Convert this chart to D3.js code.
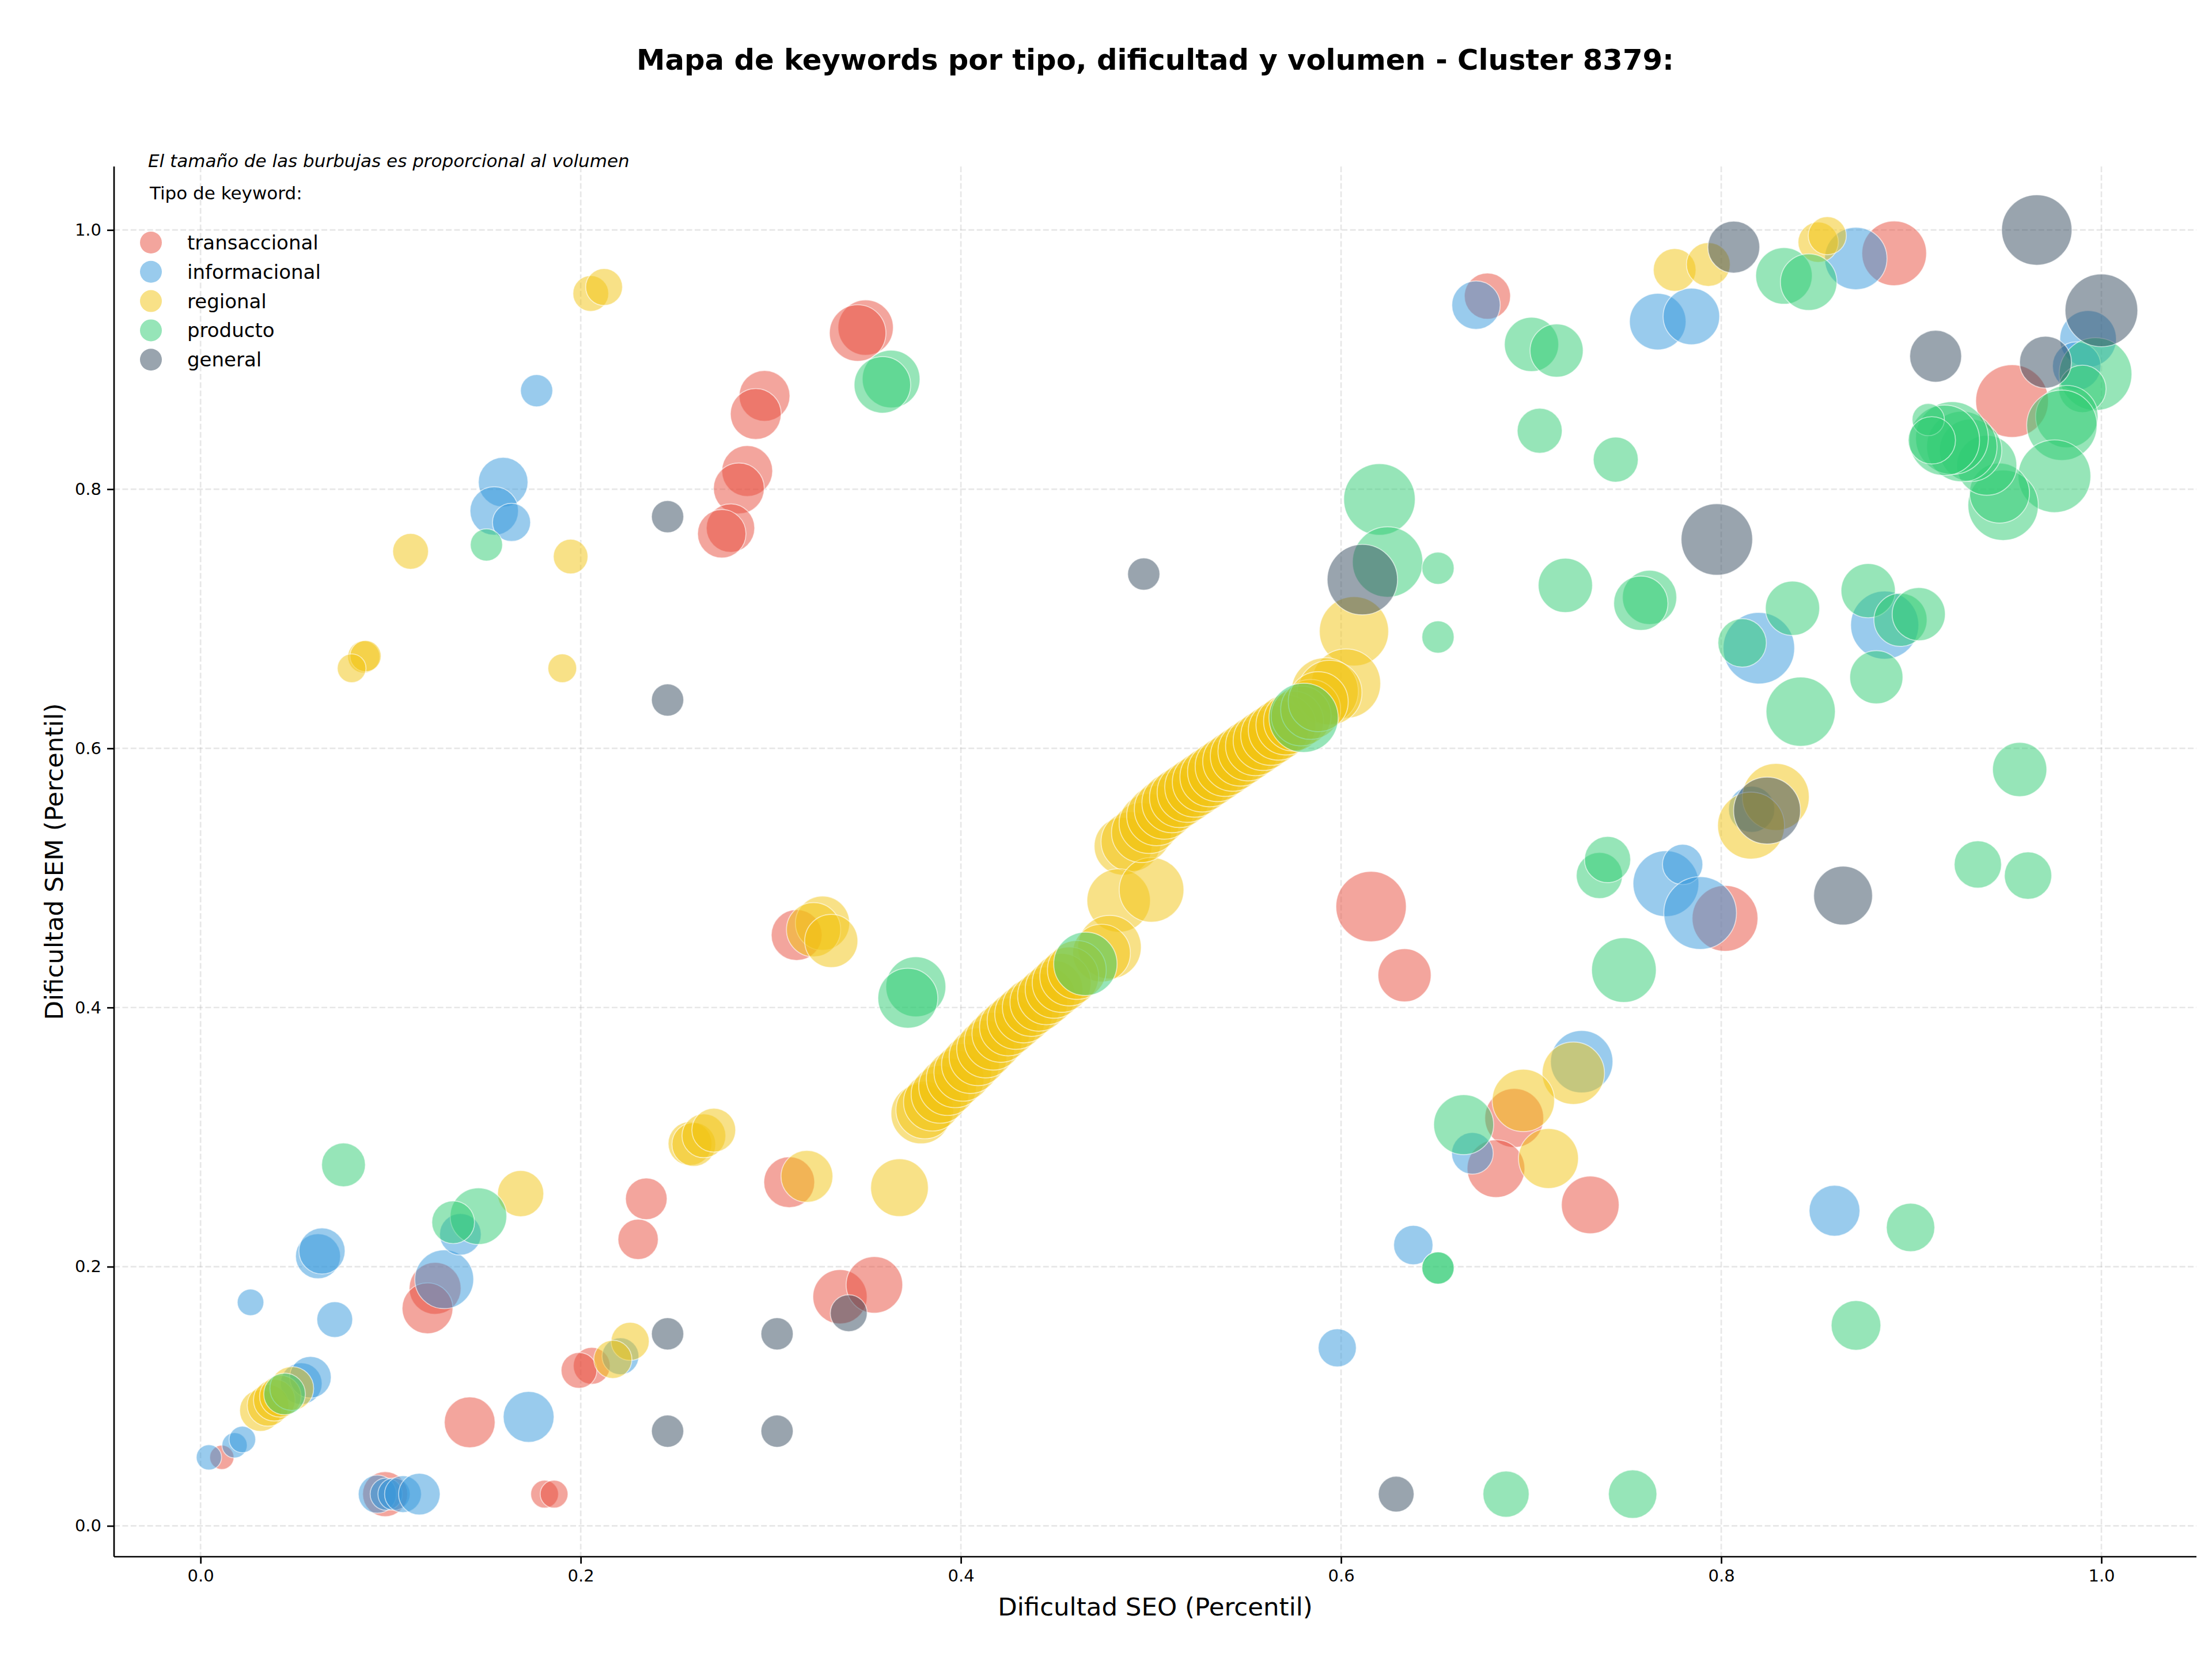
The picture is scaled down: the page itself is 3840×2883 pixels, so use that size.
<!DOCTYPE html>
<html>
<head>
<meta charset="utf-8">
<script src="https://cdn.jsdelivr.net/npm/d3@7"></script>
<style>
  html, body { margin: 0; padding: 0; background: #ffffff; }
  svg { display: block; font-family: "DejaVu Sans", sans-serif; }
</style>
</head>
<body>
<div id="chart"></div>
<script>
// ---------------- DATA ----------------
const chartTitle = "Mapa de keywords por tipo, dificultad y volumen - Cluster 8379:";
const subtitle = "El tamaño de las burbujas es proporcional al volumen";
const legendTitle = "Tipo de keyword:";
const xLabel = "Dificultad SEO (Percentil)";
const yLabel = "Dificultad SEM (Percentil)";
const categories = ["transaccional", "informacional", "regional", "producto", "general"];
const xTicks = [0.0, 0.2, 0.4, 0.6, 0.8, 1.0];
const yTicks = [0.0, 0.2, 0.4, 0.6, 0.8, 1.0];

// transaccional
const transaccionalSEO = [0.2967,0.2921,0.2876,0.2832,0.2788,0.2742,0.3499,0.3457,0.677,0.891,0.953,0.3136,0.3097,0.2345,0.2302,0.2058,0.1991,0.181,0.186,0.1416,0.0971,0.0112,0.1234,0.1194,0.3364,0.3545,0.6158,0.6334,0.6911,0.6815,0.7311,0.802];
const transaccionalSEM = [0.872,0.858,0.814,0.8006,0.770,0.7656,0.9247,0.9205,0.949,0.982,0.868,0.4559,0.2652,0.2524,0.2211,0.1235,0.120,0.0245,0.0245,0.0799,0.0245,0.0529,0.1833,0.1679,0.1768,0.186,0.4779,0.4249,0.3148,0.2757,0.2477,0.4688];
const transaccionalVol = [1940,1940,1940,1940,1760,1760,2300,2400,1600,3140,3970,1940,1940,1300,1220,1020,960,580,580,1940,1520,440,2020,1940,2210,2400,3720,2120,2600,2500,2500,3250];

// informacional
const informacionalSEO = [0.1768,0.1592,0.1545,0.1636,0.671,0.7666,0.7843,0.8708,0.993,0.987,0.8198,0.886,0.816,0.7709,0.7797,0.7889,0.7266,0.6691,0.638,0.598,0.8596,0.1726,0.093,0.0977,0.1018,0.1065,0.1151,0.0044,0.0179,0.022,0.053,0.0578,0.0706,0.0263,0.0618,0.0639,0.1282,0.1367,0.2209];
const informacionalSEM = [0.876,0.8054,0.7832,0.7744,0.942,0.9293,0.9333,0.978,0.916,0.895,0.6773,0.6951,0.553,0.4956,0.5104,0.4729,0.3582,0.2875,0.2167,0.1374,0.2432,0.0841,0.0245,0.0245,0.0245,0.0245,0.0245,0.0529,0.0622,0.0667,0.1098,0.1147,0.1592,0.1725,0.2081,0.2121,0.1903,0.225,0.1309];
const informacionalVol = [780,1850,1760,1090,1760,2400,2400,2920,2400,1760,3840,3480,1600,3250,1220,3970,2920,1300,1160,1090,1940,1940,1090,780,780,1020,1300,480,480,530,1300,1300,960,530,1520,1600,2600,1300,1020];

// regional
const regionalSEO = [0.2053,0.2123,0.1105,0.1947,0.0859,0.0868,0.0795,0.1903,0.7755,0.7932,0.851,0.8558,0.8287,0.8157,0.7222,0.6959,0.7091,0.3677,0.319,0.3272,0.3225,0.3318,0.2575,0.2595,0.2648,0.27,0.1684,0.226,0.2169,0.0315,0.0355,0.0388,0.042,0.048,
  0.6068,0.6026,0.5915,0.594,0.4853,0.4895,0.483,0.5003,0.4782,0.474,0.379,
  0.381,0.385,0.389,0.393,0.397,0.401,0.405,0.409,0.413,0.417,0.421,0.425,0.429,0.433,0.437,0.441,0.445,0.449,0.453,0.457,0.461,
  0.495,0.499,0.503,0.507,0.511,0.515,0.519,0.523,0.527,0.531,0.535,0.539,0.543,0.547,0.551,0.555,0.559,0.563,0.567,0.571,0.575,0.579,0.584,0.588];
const regionalSEM = [0.951,0.956,0.752,0.748,0.6706,0.6712,0.6618,0.6618,0.9692,0.9734,0.9906,0.9956,0.5625,0.5404,0.3493,0.3283,0.2835,0.261,0.2697,0.4651,0.4601,0.4514,0.295,0.2944,0.301,0.3054,0.2564,0.1424,0.1285,0.089,0.093,0.097,0.100,0.106,
  0.6903,0.650,0.6441,0.643,0.5245,0.528,0.4826,0.4908,0.4466,0.442,0.318,
  0.321,0.327,0.333,0.339,0.345,0.350,0.356,0.362,0.368,0.374,0.380,0.385,0.390,0.395,0.400,0.404,0.409,0.414,0.419,0.424,0.429,
  0.535,0.542,0.548,0.553,0.558,0.562,0.566,0.570,0.574,0.578,0.582,0.586,0.590,0.594,0.598,0.602,0.606,0.610,0.614,0.618,0.621,0.625,0.630,0.636];
const regionalVol = [960,1020,960,900,780,730,620,620,1370,1440,1220,1090,3360,3360,2920,2920,2700,2500,2020,2210,2210,2120,1440,1440,1440,1440,1600,1090,1090,1300,1300,1300,1300,1440,
  3600,3600,3360,3140,2500,2700,3020,3140,3020,2500,2700,
  2500,2500,2500,2500,2500,2500,2500,2500,2500,2500,2500,2500,2500,2500,2500,2500,2500,2500,2600,2600,2600,
  2700,2700,2700,2700,2700,2700,2700,2700,2700,2700,2700,2700,2700,2700,2700,2700,2700,2700,2700,2700,2700,2700,2700,2700];

// producto
const productoSEO = [0.1504,0.3633,0.3587,0.6202,0.6245,0.651,0.651,0.5803,0.4655,0.3763,0.3721,0.7002,0.7134,0.7045,0.7445,0.718,0.7623,0.7577,0.833,0.846,0.8375,0.811,0.8773,0.8943,0.9039,0.8816,0.8418,0.957,
  0.9969,0.990,0.9818,0.9792,0.9753,0.9483,0.9464,0.9397,0.9312,0.9266,0.9214,0.9174,0.9089,0.9108,
  0.7359,0.7402,0.935,0.9614,0.7488,0.6645,0.651,0.651,0.8996,0.8709,0.6868,0.7534,0.0752,0.1462,0.1329,0.0442];
const productoSEM = [0.757,0.885,0.8805,0.7921,0.7438,0.739,0.6859,0.6236,0.4337,0.416,0.4072,0.9117,0.907,0.8451,0.8228,0.7258,0.7165,0.712,0.9646,0.9598,0.7081,0.6814,0.7217,0.6992,0.7036,0.6549,0.6283,0.5837,
  0.8888,0.8774,0.856,0.8493,0.810,0.7876,0.797,0.8184,0.830,0.8329,0.8395,0.8377,0.8537,0.8377,
  0.5019,0.5142,0.5104,0.5018,0.4289,0.3096,0.199,0.199,0.2303,0.1547,0.0245,0.0245,0.2786,0.239,0.2343,0.1018];
const productoVol = [780,2500,2400,3840,3720,780,780,3600,3020,2700,2700,2210,2120,1520,1520,2210,2210,2210,2400,2400,2210,1760,2210,2120,2120,2120,3600,2210,
  3970,1680,2920,3720,3970,3720,2700,2700,2920,3720,3970,3720,780,1680,
  1600,1600,1680,1680,3140,2700,780,780,1760,1850,1600,1760,1440,2400,1370,1300];

// general
const generalSEO = [0.2457,0.2457,0.4962,0.6112,0.8066,0.7977,0.966,1.0,0.9128,0.9706,0.8241,0.8641,0.629,0.341,0.2457,0.3033,0.2457,0.3033];
const generalSEM = [0.7788,0.6373,0.7345,0.7302,0.9868,0.7612,1.0,0.938,0.9026,0.898,0.552,0.4864,0.0245,0.1641,0.1482,0.1482,0.0731,0.0731];
const generalVol = [780,780,780,3720,2020,3840,3720,3970,2020,2020,3360,2600,960,1020,780,780,780,780];

const colors = ["#e74c3c", "#3498db", "#f1c40f", "#2ecc71", "#34495e"];

// --------------- BUILD ----------------
const series = [
  {name: categories[0], x: transaccionalSEO, y: transaccionalSEM, v: transaccionalVol},
  {name: categories[1], x: informacionalSEO, y: informacionalSEM, v: informacionalVol},
  {name: categories[2], x: regionalSEO, y: regionalSEM, v: regionalVol},
  {name: categories[3], x: productoSEO, y: productoSEM, v: productoVol},
  {name: categories[4], x: generalSEO, y: generalSEM, v: generalVol}
];

const W = 3840, H = 2883;
const plot = {left: 198, right: 3813, top: 289, bottom: 2702};

const svg = d3.select("#chart").append("svg")
  .attr("width", W).attr("height", H).attr("viewBox", `0 0 ${W} ${H}`);
svg.append("rect").attr("width", W).attr("height", H).attr("fill", "#ffffff");

const x = d3.scaleLinear().domain([-0.0455, 1.05]).range([plot.left, plot.right]);
const y = d3.scaleLinear().domain([-0.0238, 1.049]).range([plot.bottom, plot.top]);
const r = d3.scaleSqrt().domain([0, 4000]).range([0, 63.3]);

// grid
const grid = svg.append("g");
grid.selectAll("line.gx").data(xTicks).join("line")
  .attr("x1", d => x(d)).attr("x2", d => x(d))
  .attr("y1", plot.top).attr("y2", plot.bottom)
  .attr("stroke", "#b0b0b0").attr("stroke-opacity", 0.3)
  .attr("stroke-width", 2.7).attr("stroke-dasharray", "10,4.4");
grid.selectAll("line.gy").data(yTicks).join("line")
  .attr("y1", d => y(d)).attr("y2", d => y(d))
  .attr("x1", plot.left).attr("x2", plot.right)
  .attr("stroke", "#b0b0b0").attr("stroke-opacity", 0.3)
  .attr("stroke-width", 2.7).attr("stroke-dasharray", "10,4.4");

// bubbles
const gPts = svg.append("g");
series.forEach((s, i) => {
  const pts = s.x.map((xv, k) => ({x: xv, y: s.y[k], v: s.v[k]}));
  gPts.append("g").selectAll("circle").data(pts).join("circle")
    .attr("cx", d => x(d.x)).attr("cy", d => y(d.y)).attr("r", d => r(d.v))
    .attr("fill", colors[i]).attr("fill-opacity", 0.5)
    .attr("stroke", "#ffffff").attr("stroke-opacity", 0.6).attr("stroke-width", 1.7);
});

// axes
const xAxis = d3.axisBottom(x).tickValues(xTicks).tickFormat(d3.format(".1f"))
  .tickSize(12).tickPadding(10);
const yAxis = d3.axisLeft(y).tickValues(yTicks).tickFormat(d3.format(".1f"))
  .tickSize(12).tickPadding(10);

const gx = svg.append("g").attr("transform", `translate(0,${plot.bottom})`).call(xAxis);
const gy = svg.append("g").attr("transform", `translate(${plot.left},0)`).call(yAxis);
[gx, gy].forEach(g => {
  g.select(".domain").attr("stroke", "#000").attr("stroke-width", 2.7);
  g.selectAll(".tick line").attr("stroke", "#000").attr("stroke-width", 2.7);
  g.selectAll(".tick text").attr("fill", "#000")
    .style("font-family", "DejaVu Sans").style("font-size", "29px");
});
gx.select(".domain").attr("d", `M${plot.left},0H${plot.right}`);
gy.select(".domain").attr("d", `M0,${plot.bottom}V${plot.top}`);

// labels
svg.append("text").attr("x", (plot.left + plot.right) / 2).attr("y", 2804)
  .attr("text-anchor", "middle").style("font-size", "43.5px").attr("fill", "#000")
  .text(xLabel);
svg.append("text").attr("transform", `translate(109,${(plot.top + plot.bottom) / 2}) rotate(-90)`)
  .attr("text-anchor", "middle").style("font-size", "43.5px").attr("fill", "#000")
  .text(yLabel);

// title
svg.append("text").attr("x", (plot.left + plot.right) / 2).attr("y", 121)
  .attr("text-anchor", "middle").style("font-size", "49.7px").style("font-weight", "bold")
  .attr("fill", "#000").text(chartTitle);

// subtitle
svg.append("text").attr("x", 257).attr("y", 290)
  .style("font-size", "31px").style("font-style", "italic").attr("fill", "#000")
  .text(subtitle);

// legend
const leg = svg.append("g");
leg.append("text").attr("x", 260).attr("y", 346).style("font-size", "31px")
  .attr("fill", "#000").text(legendTitle);
categories.forEach((c, i) => {
  const cy = 421 + i * 50.8;
  leg.append("circle").attr("cx", 262).attr("cy", cy).attr("r", 19)
    .attr("fill", colors[i]).attr("fill-opacity", 0.5);
  leg.append("text").attr("x", 325).attr("y", cy + 12).style("font-size", "34px")
    .attr("fill", "#000").text(c);
});
</script>
</body>
</html>
